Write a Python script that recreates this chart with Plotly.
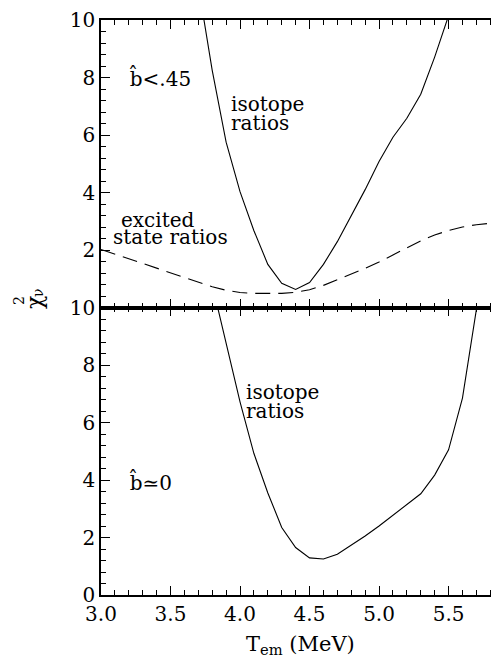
import plotly.graph_objects as go

# ---- data ----
T_top_iso = [3.7, 3.8, 3.9, 4.0, 4.1, 4.2, 4.3, 4.4, 4.5, 4.6, 4.7, 4.8, 4.9, 5.0, 5.1, 5.2, 5.3, 5.4, 5.5]
chi_top_iso = [11.2, 8.25, 5.75, 4.03, 2.67, 1.50, 0.84, 0.63, 0.87, 1.50, 2.29, 3.17, 4.10, 5.08, 5.92, 6.58, 7.42, 8.71, 10.15]

T_top_exc = [3.0, 3.1, 3.2, 3.3, 3.4, 3.5, 3.6, 3.7, 3.8, 3.9, 4.0, 4.1, 4.2, 4.3, 4.4,
             4.5, 4.6, 4.7, 4.8, 4.9, 5.0, 5.1, 5.2, 5.3, 5.4, 5.5, 5.6, 5.7, 5.8, 5.9]
chi_top_exc = [2.02, 1.86, 1.70, 1.54, 1.38, 1.22, 1.05, 0.88, 0.72, 0.60, 0.52, 0.49, 0.48, 0.49, 0.53,
               0.62, 0.77, 0.96, 1.16, 1.36, 1.58, 1.82, 2.07, 2.32, 2.52, 2.68, 2.80, 2.88, 2.93, 2.96]

T_bot_iso = [3.8, 3.9, 4.0, 4.1, 4.2, 4.3, 4.4, 4.5, 4.6, 4.7, 4.8, 4.9, 5.0, 5.1, 5.2, 5.3, 5.4, 5.5, 5.6, 5.7, 5.8]
chi_bot_iso = [10.8, 8.77, 6.72, 4.92, 3.55, 2.35, 1.65, 1.29, 1.25, 1.42, 1.72, 2.05, 2.40, 2.77, 3.13, 3.52, 4.17, 5.05, 6.85, 9.7, 13.0]

x_ticks = [3.0, 3.5, 4.0, 4.5, 5.0, 5.5]
x_ticktext = ["3.0", "3.5", "4.0", "4.5", "5.0", "5.5"]
y_ticks_top = [2, 4, 6, 8, 10]
y_ticks_bot = [0, 2, 4, 6, 8, 10]
y_ticks_right = [2, 4, 6, 8]

FONT = "DejaVu Serif"
LW_AX = 1.7

fig = go.Figure()

fig.add_trace(go.Scatter(x=T_top_iso, y=chi_top_iso, mode="lines", xaxis="x2", yaxis="y2",
                         line=dict(color="black", width=1.1), showlegend=False, hoverinfo="skip"))
fig.add_trace(go.Scatter(x=T_top_exc, y=chi_top_exc, mode="lines", xaxis="x2", yaxis="y2",
                         line=dict(color="black", width=1.1, dash="15px,8px"), showlegend=False, hoverinfo="skip"))
fig.add_trace(go.Scatter(x=T_bot_iso, y=chi_bot_iso, mode="lines", xaxis="x", yaxis="y",
                         line=dict(color="black", width=1.1), showlegend=False, hoverinfo="skip"))
# empty traces so the right-hand tick axes are created
fig.add_trace(go.Scatter(x=[], y=[], xaxis="x", yaxis="y3", showlegend=False, hoverinfo="skip"))
fig.add_trace(go.Scatter(x=[], y=[], xaxis="x2", yaxis="y4", showlegend=False, hoverinfo="skip"))

xcommon = dict(range=[3.0, 5.906], showline=True, linecolor="black", linewidth=LW_AX, mirror="ticks",
               ticks="inside", ticklen=9, tickwidth=1.3, tickcolor="black",
               tickmode="array", tickvals=x_ticks, ticktext=x_ticktext,
               minor=dict(ticks="inside", ticklen=5, tickwidth=1, tickcolor="black", tick0=3.0, dtick=0.1),
               showgrid=False, zeroline=False, domain=[0, 1])
ycommon = dict(range=[0, 10], showline=True, linecolor="black", linewidth=LW_AX, mirror=False,
               ticks="inside", ticklen=9, tickwidth=1.3, tickcolor="black", tickmode="array",
               minor=dict(ticks="inside", ticklen=5, tickwidth=1, tickcolor="black", tick0=0, dtick=0.4),
               showgrid=False, zeroline=False)
yright = dict(range=[0, 10], showline=False, ticks="inside", ticklen=9, tickwidth=1.3, tickcolor="black",
              tickmode="array", tickvals=y_ticks_right, showticklabels=False, showgrid=False,
              zeroline=False, side="right")

fig.update_layout(
    width=497, height=660,
    margin=dict(l=93, r=0, t=12, b=73),
    paper_bgcolor="white", plot_bgcolor="white",
    font=dict(family=FONT, size=20, color="black"),
    xaxis=dict(**xcommon, anchor="y", tickfont=dict(size=20)),
    xaxis2=dict(**xcommon, anchor="y2", matches="x", showticklabels=False),
    yaxis=dict(**ycommon, domain=[0, 0.5], anchor="x", tickvals=y_ticks_bot, tickfont=dict(size=20)),
    yaxis2=dict(**ycommon, domain=[0.5, 1], anchor="x2", tickvals=y_ticks_top, tickfont=dict(size=20)),
    yaxis3=dict(**yright, overlaying="y", anchor="x"),
    yaxis4=dict(**yright, overlaying="y2", anchor="x2"),
)

ann_font = dict(family=FONT, size=20, color="black")
def label(text, x, y, xref, yref):
    fig.add_annotation(text=text, x=x, y=y, xref=xref, yref=yref, showarrow=False,
                       xanchor="left", yanchor="middle", font=ann_font)

# top panel labels
label("b\u0302<.45", 3.19, 8.0, "x2", "y2")
label("isotope", 3.92, 7.07, "x2", "y2")
label("ratios", 3.92, 6.42, "x2", "y2")
label("excited", 3.13, 3.06, "x2", "y2")
label("state ratios", 3.07, 2.44, "x2", "y2")
# bottom panel labels
label("isotope", 4.03, 7.06, "x", "y")
label("ratios", 4.03, 6.40, "x", "y")
label("b\u0302\u22430", 3.19, 3.93, "x", "y")

# axis titles
fig.add_annotation(text="T<sub>em</sub> (MeV)", x=0.495, y=-0.087, xref="paper", yref="paper",
                   showarrow=False, xanchor="center", yanchor="middle", font=dict(family=FONT, size=21))
fig.add_annotation(text="\u03c7", x=-0.163, y=0.508, xref="paper", yref="paper", textangle=-90,
                   showarrow=False, xanchor="center", yanchor="middle", font=dict(family=FONT, size=22))
fig.add_annotation(text="\u03bd", x=-0.156, y=0.527, xref="paper", yref="paper", textangle=-90,
                   showarrow=False, xanchor="center", yanchor="middle", font=dict(family=FONT, size=14))
fig.add_annotation(text="2", x=-0.203, y=0.513, xref="paper", yref="paper", textangle=-90,
                   showarrow=False, xanchor="center", yanchor="middle", font=dict(family=FONT, size=14))

fig.write_html("out.html")
